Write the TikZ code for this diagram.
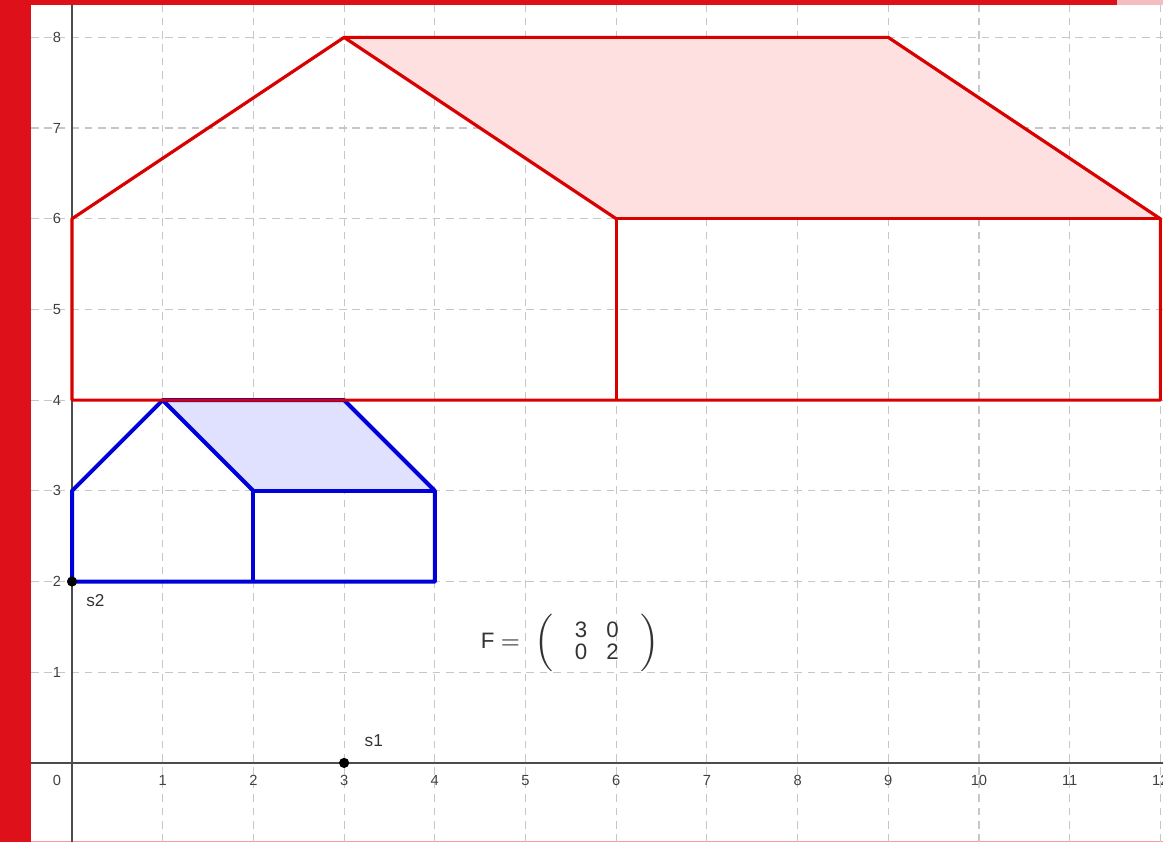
\documentclass[tikz,border=0pt]{standalone}
\usepackage{fontspec}
\setmainfont{Liberation Sans}
\begin{document}
\begin{tikzpicture}[x=1cm,y=1cm,
  gridline/.style={draw=black!22, line width=0.35pt, dash pattern=on 2.4pt off 1.8pt},
  axisline/.style={draw=black!70, line width=0.6pt},
  redline/.style={draw=red!85!black, line width=1pt, line join=round},
  blueline/.style={draw=blue!85!black, line width=1.25pt, line join=round},
  redfill/.style={fill=red!12},
  bluefill/.style={fill=blue!12},
  ticklab/.style={font=\fontsize{4.6}{5}\selectfont, text=black!75, inner sep=0pt},
  ptlab/.style={font=\fontsize{5.4}{6}\selectfont, text=black!80, inner sep=0pt},
  dot/.style={circle, fill=black, inner sep=0pt, minimum size=3.2pt}]
\definecolor{barred}{RGB}{222,16,26}
\definecolor{barpink}{RGB}{245,190,190}
\useasboundingbox (-0.794,-0.871) rectangle (12.029,8.412);
\clip (-0.794,-0.871) rectangle (12.029,8.412);
% frame bars
\fill[barred] (-0.794,-0.871) rectangle (-0.452,8.412);
\fill[barred] (-0.452,8.357) rectangle (11.52,8.412);
\fill[barpink] (11.52,8.357) rectangle (12.029,8.412);
\draw[red!40, line width=0.3pt] (-0.452,-0.865) -- (12.029,-0.865);
% grid
\foreach \x in {1,...,12} \draw[gridline] (\x,-0.871) -- (\x,8.357);
\foreach \y in {1,...,8} \draw[gridline] (-0.452,\y) -- (12.029,\y);
% axes
\draw[axisline] (-0.452,0) -- (12.029,0);
\draw[axisline] (0,-0.871) -- (0,8.357);
% tick labels
\node[ticklab] at (-0.165,-0.19) {0};
\foreach \x in {1,...,12} \node[ticklab] at (\x,-0.19) {\x};
\foreach \y in {1,...,8} \node[ticklab] at (-0.165,\y) {\y};
% points
\coordinate (a1) at (0,2); \coordinate (a2) at (0,3); \coordinate (a3) at (1,4);
\coordinate (a4) at (3,4); \coordinate (a5) at (4,3); \coordinate (a6) at (4,2);
\coordinate (a7) at (2,2); \coordinate (a8) at (2,3);
\coordinate (b1) at (0,4); \coordinate (b2) at (0,6); \coordinate (b3) at (3,8);
\coordinate (b4) at (9,8); \coordinate (b5) at (12,6); \coordinate (b6) at (12,4);
\coordinate (b7) at (6,4); \coordinate (b8) at (6,6);
% blue house
\fill[bluefill] (a3) -- (a4) -- (a5) -- (a8) -- cycle;
\draw[blueline] (a1) -- (a2) -- (a3) -- (a4) -- (a5) -- (a6) -- cycle;
\draw[blueline] (a7) -- (a8) -- (a5);
\draw[blueline] (a3) -- (a8);
% red house
\fill[redfill] (b3) -- (b4) -- (b5) -- (b8) -- cycle;
\draw[redline] (b1) -- (b2) -- (b3) -- (b4) -- (b5) -- (b6) -- cycle;
\draw[redline] (b7) -- (b8) -- (b5);
\draw[redline] (b3) -- (b8);
% special points
\node[dot] (s1) at (3,0) {};
\node[dot] (s2) at (0,2) {};
\node[ptlab, anchor=south west] at (3.22,0.17) {s1};
\node[ptlab, anchor=north west] at (0.15,1.86) {s2};
% matrix
\node[font=\fontsize{7}{8.4}\selectfont, text=black!80] (F) at (5.49,1.32)
  {F $=\;\left(\;\,\arraycolsep=3pt\begin{array}{cc}\mbox{3} & \mbox{0}\\[-1.5pt] \mbox{0} & \mbox{2}\end{array}\;\,\right)$};
\end{tikzpicture}
\end{document}
